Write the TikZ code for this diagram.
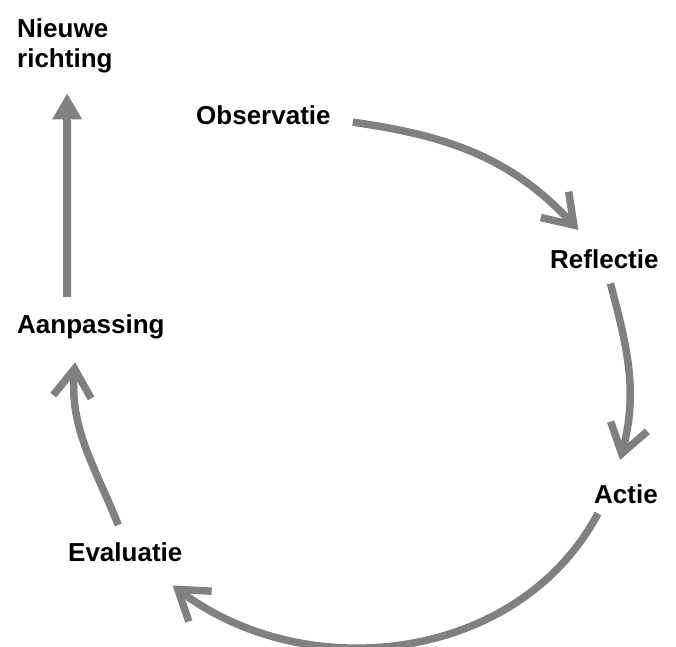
\documentclass[tikz,border=0pt]{standalone}
\usepackage{fontspec}
\setmainfont{Liberation Sans}
\usetikzlibrary{arrows.meta}
\definecolor{arrowgray}{HTML}{808080}
\begin{document}
\begin{tikzpicture}[x=1pt,y=1pt,
  lbl/.style={font=\fontsize{26}{30}\selectfont\bfseries, inner sep=0pt, anchor=base west, align=left},
  cyc/.style={draw=arrowgray, line width=7.5pt, -{Straight Barb[length=28pt,width=38pt]}},
  upar/.style={draw=arrowgray, line width=8pt, -{Triangle[length=26pt,width=28pt]}}]
\useasboundingbox (0,0) rectangle (676,-646);
\node[lbl, anchor=north west] (nieuw) at (17,-18) {Nieuwe\\richting};
\node[lbl] (obs) at (196,-124) {Observatie};
\node[lbl] (refl) at (550,-268) {Reflectie};
\node[lbl] (actie) at (594,-503) {Actie};
\node[lbl] (eval) at (68,-561) {Evaluatie};
\node[lbl] (aanp) at (17,-333) {Aanpassing};
\draw[cyc] ([shift={(22,-7.5)}]obs.east) to[out=-8,in=133] ([shift={(-26,19)}]refl.north);
\draw[cyc] ([shift={(6,-15)}]refl.south) to[out=-75,in=75] ([shift={(-6,24)}]actie.north);
\draw[cyc] ([shift={(4,-10)}]actie.south west) to[out=-118,in=-37] ([shift={(-10,-24)}]eval.south east);
\draw[cyc] ([shift={(-7,17)}]eval.north) to[out=112,in=-95] ([shift={(-15.7,-23.5)}]aanp.south);
\draw[upar] ([shift={(-23.7,17)}]aanp.north) -- ([shift={(2.3,-20.5)}]nieuw.south);
\end{tikzpicture}
\end{document}
